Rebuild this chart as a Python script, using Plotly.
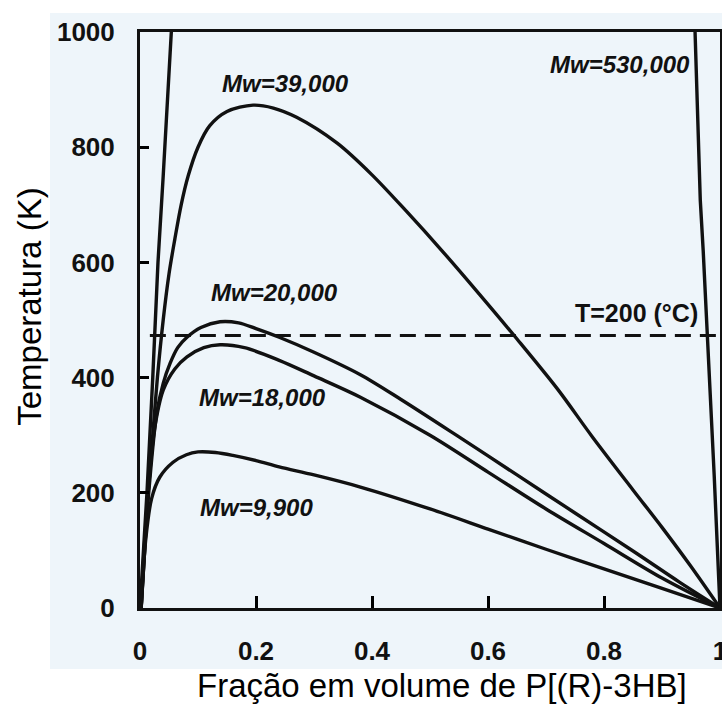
import plotly.graph_objects as go

# ---- data ----
x_39000 = [0.002, 0.007, 0.014, 0.022, 0.030, 0.040, 0.050, 0.060, 0.071, 0.083, 0.100, 0.120, 0.150, 0.195, 0.230, 0.270, 0.340, 0.400, 0.460, 0.520, 0.585, 0.650, 0.720, 0.780, 0.850, 0.900, 0.950, 1.000]
T_39000 = [0, 100, 200, 300, 400, 500, 580, 640, 700, 750, 800, 837, 862, 873, 868, 852, 807, 752, 688, 621, 545, 467, 380, 297, 205, 140, 72, 0]

x_20000 = [0.002, 0.008, 0.015, 0.029, 0.040, 0.052, 0.065, 0.081, 0.105, 0.138, 0.170, 0.200, 0.240, 0.300, 0.380, 0.450, 0.550, 0.650, 0.750, 0.850, 0.930, 1.000]
T_20000 = [0, 100, 200, 339, 390, 425, 452, 470, 487, 497, 495, 485, 470, 444, 405, 362, 297, 231, 165, 99, 45, 0]

x_18000 = [0.002, 0.008, 0.014, 0.025, 0.040, 0.060, 0.081, 0.110, 0.138, 0.180, 0.240, 0.300, 0.380, 0.500, 0.600, 0.700, 0.800, 0.900, 1.000]
T_18000 = [0, 100, 200, 310, 378, 415, 436, 452, 457, 452, 430, 403, 366, 300, 236, 172, 112, 52, 0]

x_9900 = [0.002, 0.010, 0.020, 0.034, 0.057, 0.080, 0.100, 0.130, 0.160, 0.200, 0.240, 0.300, 0.380, 0.500, 0.600, 0.700, 0.800, 0.900, 1.000]
T_9900 = [0, 120, 190, 227, 253, 266, 271, 270, 265, 256, 245, 231, 210, 172, 137, 102, 68, 34, 0]

x_530000_left = [0.000, 0.012, 0.022, 0.031, 0.040, 0.047, 0.054]
T_530000_left = [0, 200, 400, 600, 750, 880, 1000]
x_530000_right = [0.957, 0.966, 0.971, 0.979, 0.990, 1.000]
T_530000_right = [1000, 708, 621, 465, 230, 0]

T_200C_K = 473.15
x_dash = [0.017, 1.0]

labels = ["Mw=39,000", "Mw=530,000", "Mw=20,000", "Mw=18,000", "Mw=9,900"]
label_x = [0.25, 0.952, 0.232, 0.212, 0.20]
label_T = [911, 943, 547, 365, 174]
label_anchor = ["center", "right", "center", "center", "center"]

x_ticks = [0, 0.2, 0.4, 0.6, 0.8, 1.0]
x_ticktext = ["0", "0.2", "0.4", "0.6", "0.8", "1"]
y_ticks = [0, 200, 400, 600, 800, 1000]
x_minor_marks = [0.2, 0.4, 0.6, 0.8]
y_minor_marks = [200, 400, 600, 800]

# ---- style ----
INK = "#111111"
PAPER = "#eef5fa"
LW = 3.4
tick_font = dict(family="Liberation Sans, Arial", size=26, color=INK, weight="bold")
lab_font = dict(family="Liberation Sans, Arial", size=24, color=INK, weight="bold", style="italic")

fig = go.Figure()
for xs, ts, shp in [(x_39000, T_39000, "spline"), (x_20000, T_20000, "spline"), (x_18000, T_18000, "spline"),
                    (x_9900, T_9900, "spline"), (x_530000_left, T_530000_left, "linear"),
                    (x_530000_right, T_530000_right, "linear")]:
    fig.add_trace(go.Scatter(x=xs, y=ts, mode="lines", line=dict(color=INK, width=LW, shape=shp, smoothing=0.9),
                             showlegend=False, hoverinfo="skip"))

fig.add_trace(go.Scatter(x=x_dash, y=[T_200C_K, T_200C_K], mode="lines",
                         line=dict(color=INK, width=3, dash="16px,9px"), showlegend=False, hoverinfo="skip"))

# empty trace so the overlay axes (tick marks only) get drawn
fig.add_trace(go.Scatter(x=[None], y=[None], xaxis="x2", yaxis="y2", mode="lines",
                         showlegend=False, hoverinfo="skip"))

for t, xx, tt, an in zip(labels, label_x, label_T, label_anchor):
    fig.add_annotation(x=xx, y=tt, text=t, showarrow=False, xanchor=an, yanchor="middle", font=lab_font)

fig.add_annotation(x=0.965, y=512, text="T=200 (°C)", showarrow=False, xanchor="right", yanchor="middle",
                   font=dict(family="Liberation Sans, Arial", size=25, color=INK, weight="bold"))

# axis titles
fig.add_annotation(xref="paper", yref="paper", x=-0.19, y=0.5226, text="Temperatura (K)", textangle=-90,
                   showarrow=False, xanchor="center", yanchor="middle",
                   font=dict(family="Liberation Sans, Arial", size=33, color="#000000"))
fig.add_annotation(xref="paper", yref="paper", x=0.521, y=-0.134, text="Fração em volume de P[(R)-3HB]",
                   showarrow=False, xanchor="center", yanchor="middle",
                   font=dict(family="Liberation Sans, Arial", size=33, color="#000000"))

# scanned-paper look: tinted page with white margins outside the scan
for x0, x1, y0, y1 in [(-0.3, -0.1552, -0.3, 1.2), (-0.3, 1.1, -0.3, -0.1059), (-0.3, 1.1, 1.033, 1.2)]:
    fig.add_shape(type="rect", xref="paper", yref="paper", x0=x0, x1=x1, y0=y0, y1=y1,
                  fillcolor="white", line=dict(width=0), layer="above")

fig.update_layout(
    width=722, height=715, margin=dict(l=140, r=2, t=32, b=107),
    paper_bgcolor=PAPER, plot_bgcolor=PAPER,
    xaxis=dict(range=[0, 1.0], tickvals=x_ticks, ticktext=x_ticktext, ticks="",
               showline=True, linewidth=3, linecolor=INK, mirror=True, showgrid=False, zeroline=False,
               tickfont=tick_font, ticklabelstandoff=18, ticklabeloverflow="allow", automargin=False),
    yaxis=dict(range=[0, 1000], tickvals=y_ticks, ticks="",
               showline=True, linewidth=3, linecolor=INK, mirror=True, showgrid=False, zeroline=False,
               tickfont=tick_font, ticklabelstandoff=17, ticklabeloverflow="allow", automargin=False),
    xaxis2=dict(overlaying="x", matches="x", side="bottom", anchor="y2", range=[0, 1.0],
                tickvals=x_minor_marks, ticks="inside", ticklen=12, tickwidth=3, tickcolor="#000000",
                showticklabels=False, showline=False, showgrid=False, zeroline=False),
    yaxis2=dict(overlaying="y", side="left", anchor="x2", range=[0, 1000],
                tickvals=y_minor_marks, ticks="inside", ticklen=9, tickwidth=3, tickcolor="#000000",
                showticklabels=False, showline=False, showgrid=False, zeroline=False),
)

fig.write_html("out.html")
